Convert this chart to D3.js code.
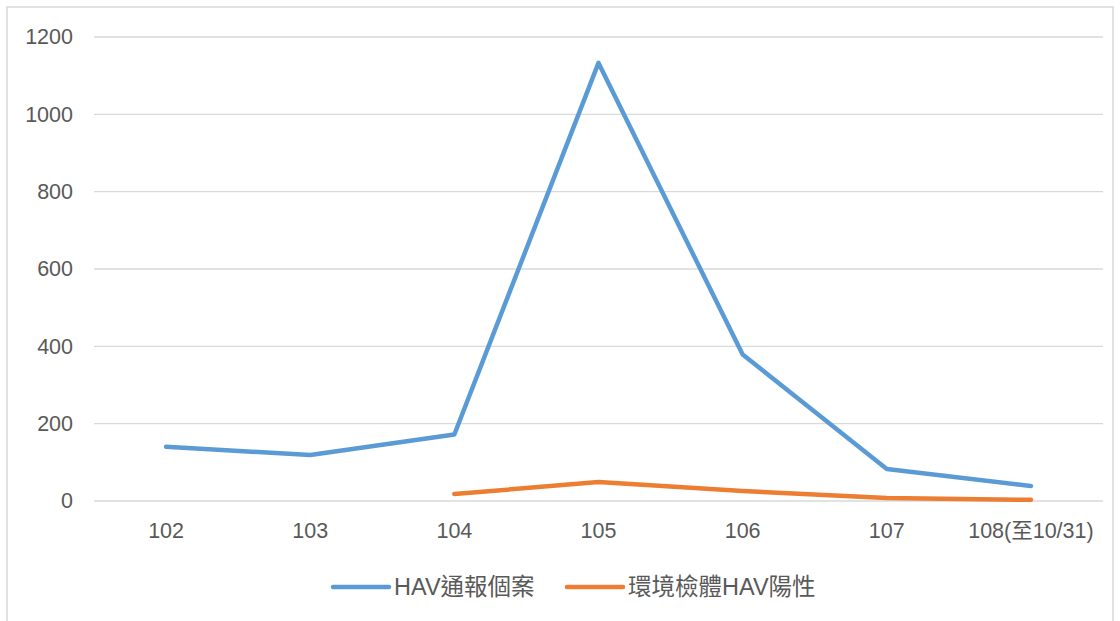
<!DOCTYPE html>
<html>
<head>
<meta charset="utf-8">
<script src="https://cdn.jsdelivr.net/npm/d3@7"></script>
<style>
  html, body { margin: 0; padding: 0; background: #fff; }
  svg text { font-family: "Liberation Sans", "Noto Sans CJK TC", sans-serif; fill: #595959; }
</style>
</head>
<body>
<svg id="chart" width="1120" height="621"></svg>
<script>
const categories = ["102", "103", "104", "105", "106", "107", "108(至10/31)"];
const reportedCases = [140, 119, 172, 1133, 379, 83, 39];
const envPositive = [null, null, 18, 49, 26, 8, 3];
const yTicks = [0, 200, 400, 600, 800, 1000, 1200];
const seriesNames = ["HAV通報個案", "環境檢體HAV陽性"];
const seriesColors = ["#5B9BD5", "#ED7D31"];

const svg = d3.select("#chart");

// chart frame
svg.append("rect")
  .attr("x", 7).attr("y", 7).attr("width", 1106).attr("height", 630)
  .attr("fill", "#fff").attr("stroke", "#D9D9D9").attr("stroke-width", 1.5);

const plot = { left: 94, right: 1103, top: 37, bottom: 501 };

const x = d3.scaleBand().domain(categories).range([plot.left, plot.right]).paddingInner(0).paddingOuter(0);
const y = d3.scaleLinear().domain([0, 1200]).range([plot.bottom, plot.top]);
const cx = d => x(d) + x.bandwidth() / 2;

// horizontal gridlines
svg.append("g").selectAll("line").data(yTicks).join("line")
  .attr("x1", plot.left).attr("x2", plot.right)
  .attr("y1", d => y(d)).attr("y2", d => y(d))
  .attr("stroke", "#D9D9D9").attr("stroke-width", 1.3);

// y axis labels
const yAxis = d3.axisLeft(y).tickValues(yTicks).tickFormat(d3.format("d")).tickSize(0).tickPadding(0);
svg.append("g").attr("transform", "translate(73,0)").call(yAxis)
  .call(g => g.select(".domain").remove())
  .call(g => g.selectAll("text").attr("font-size", 21.5).attr("fill", "#595959")
    .attr("font-family", "Liberation Sans, sans-serif"));

// x axis labels
const xAxis = d3.axisBottom(x).tickSize(0).tickPadding(0);
svg.append("g").attr("transform", "translate(0,523)").call(xAxis)
  .call(g => g.select(".domain").remove())
  .call(g => g.selectAll("text").attr("font-size", 21.5).attr("fill", "#595959")
    .attr("font-family", "Liberation Sans, Noto Sans CJK TC, sans-serif"));

// series lines
const line = d3.line()
  .defined(d => d.v !== null)
  .x(d => cx(d.c))
  .y(d => y(d.v));

[reportedCases, envPositive].forEach((vals, i) => {
  const data = categories.map((c, j) => ({ c, v: vals[j] }));
  svg.append("path")
    .datum(data)
    .attr("d", line)
    .attr("fill", "none")
    .attr("stroke", seriesColors[i])
    .attr("stroke-width", 4.5)
    .attr("stroke-linejoin", "round")
    .attr("stroke-linecap", "round");
});

// legend
const legendItems = [{ x: 333 }, { x: 567 }];
legendItems.forEach((it, i) => {
  const g = svg.append("g").attr("transform", `translate(${it.x},587)`);
  g.append("line").attr("x1", 0).attr("x2", 56).attr("y1", 0).attr("y2", 0)
    .attr("stroke", seriesColors[i]).attr("stroke-width", 4.5).attr("stroke-linecap", "round");
  g.append("text").attr("x", 61).attr("y", 0).attr("dy", "0.35em")
    .attr("font-size", 23.5)
    .attr("font-family", "Liberation Sans, Noto Sans CJK TC, sans-serif")
    .text(seriesNames[i]);
});
</script>
</body>
</html>
